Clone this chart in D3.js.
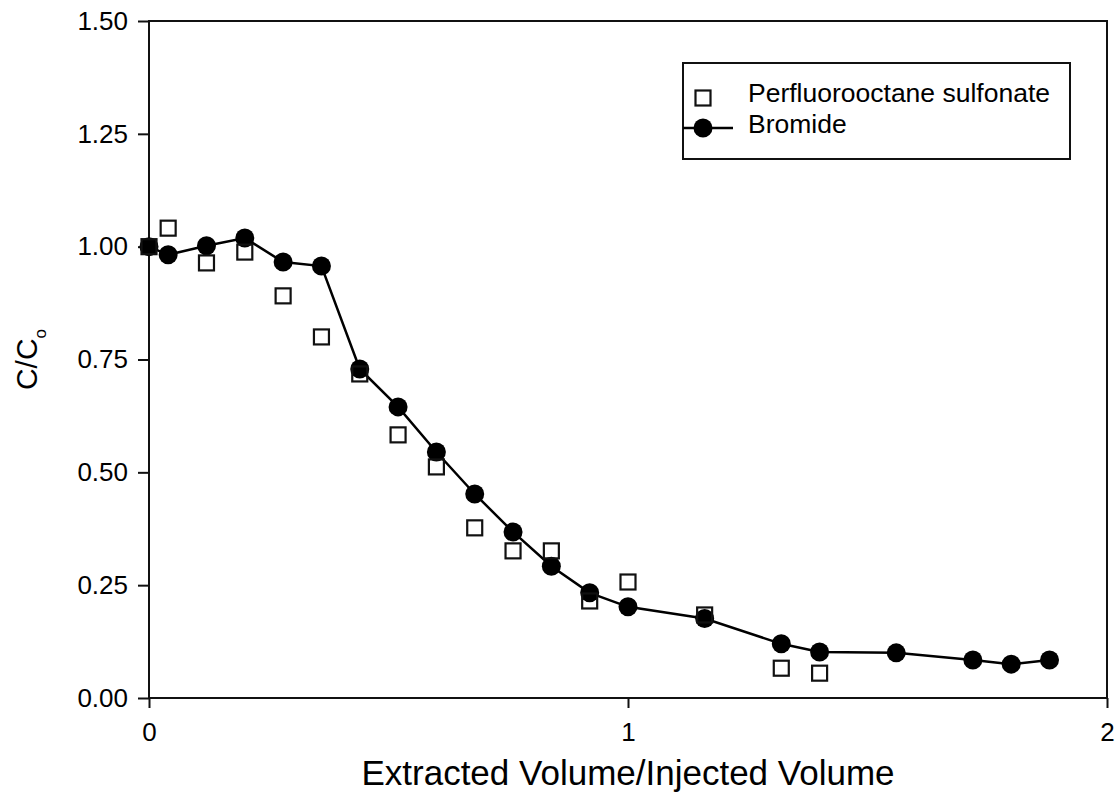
<!DOCTYPE html>
<html>
<head>
<meta charset="utf-8">
<script src="https://cdn.jsdelivr.net/npm/d3@7"></script>
<style>
  html, body { margin: 0; padding: 0; background: #fff; }
  svg { display: block; font-family: "Liberation Sans", Arial, sans-serif; }
</style>
</head>
<body>
<svg id="chart" width="1120" height="806"></svg>
<script>
// data
const volRatio = [0, 0.04, 0.12, 0.2, 0.28, 0.36, 0.44, 0.52, 0.60, 0.68, 0.76, 0.84, 0.92, 1.0, 1.16, 1.32, 1.40, 1.56, 1.72, 1.80, 1.88];
const bromide = [1.00, 0.982, 1.002, 1.019, 0.966, 0.957, 0.729, 0.645, 0.545, 0.452, 0.368, 0.292, 0.233, 0.202, 0.176, 0.120, 0.102, 0.100, 0.084, 0.075, 0.084];
const pfosRatio = [0, 0.04, 0.12, 0.2, 0.28, 0.36, 0.44, 0.52, 0.60, 0.68, 0.76, 0.84, 0.92, 1.0, 1.16, 1.32, 1.40];
const pfos = [1.00, 1.041, 0.964, 0.988, 0.891, 0.800, 0.718, 0.583, 0.512, 0.377, 0.326, 0.326, 0.215, 0.257, 0.184, 0.066, 0.055];
const xTicks = [0, 1, 2];
const yTicks = [0, 0.25, 0.5, 0.75, 1.0, 1.25, 1.5];
const seriesNames = ['Perfluorooctane sulfonate', 'Bromide'];

const svg = d3.select('#chart');
const margin = { left: 149, right: 13, top: 21, bottom: 108 };
const width = 1120 - margin.left - margin.right;
const height = 806 - margin.top - margin.bottom;

const graph = svg.append('g').attr('transform', `translate(${margin.left}, ${margin.top})`);

const x = d3.scaleLinear().domain([0, 2]).range([0, width]);
const y = d3.scaleLinear().domain([0, 1.5]).range([height, 0]);

// axes
const yAxis = graph.append('g')
  .call(d3.axisLeft(y).tickValues(yTicks).tickSize(11).tickPadding(10).tickFormat(d3.format('.2f')));
const xAxis = graph.append('g')
  .attr('transform', `translate(0, ${height})`)
  .call(d3.axisBottom(x).tickValues(xTicks).tickSize(10).tickPadding(15).tickFormat(d3.format('d')));

[xAxis, yAxis].forEach((a) => {
  a.select('.domain').remove();
  a.selectAll('line').attr('stroke', '#111').attr('stroke-width', 2);
  a.selectAll('text').attr('fill', '#000').attr('font-size', 26).attr('font-family', '"Liberation Sans", Arial, sans-serif');
});

// frame
graph.append('rect')
  .attr('x', 0).attr('y', 0)
  .attr('width', width).attr('height', height)
  .attr('fill', 'none')
  .attr('stroke', '#111')
  .attr('stroke-width', 2);

// bromide line + markers
const line = d3.line()
  .x((d) => x(d[0]))
  .y((d) => y(d[1]));

const bromideData = volRatio.map((v, i) => [v, bromide[i]]);
const pfosData = pfosRatio.map((v, i) => [v, pfos[i]]);

graph.append('path')
  .datum(bromideData)
  .attr('d', line)
  .attr('fill', 'none')
  .attr('stroke', '#000')
  .attr('stroke-width', 2.5);

graph.selectAll('.bromide')
  .data(bromideData)
  .enter()
  .append('circle')
  .attr('class', 'bromide')
  .attr('cx', (d) => x(d[0]))
  .attr('cy', (d) => y(d[1]))
  .attr('r', 9.5)
  .attr('fill', '#000');

// PFOS squares
const sq = 15;
graph.selectAll('.pfos')
  .data(pfosData)
  .enter()
  .append('rect')
  .attr('class', 'pfos')
  .attr('x', (d) => x(d[0]) - sq / 2)
  .attr('y', (d) => y(d[1]) - sq / 2)
  .attr('width', sq)
  .attr('height', sq)
  .attr('fill', 'none')
  .attr('stroke', '#111')
  .attr('stroke-width', 2.2);

// axis titles
svg.append('text')
  .attr('x', margin.left + width / 2)
  .attr('y', 785)
  .attr('text-anchor', 'middle')
  .attr('font-size', 35)
  .attr('fill', '#000')
  .text('Extracted Volume/Injected Volume');

const yTitle = svg.append('text')
  .attr('transform', `translate(37, ${margin.top + height / 2}) rotate(-90)`)
  .attr('text-anchor', 'middle')
  .attr('font-size', 30)
  .attr('fill', '#000');
yTitle.append('tspan').text('C/C');
yTitle.append('tspan').attr('font-size', 17).attr('dy', 9).text('o');

// legend
const legend = svg.append('g').attr('transform', 'translate(683, 63)');
legend.append('rect')
  .attr('width', 387).attr('height', 96)
  .attr('fill', '#fff')
  .attr('stroke', '#111')
  .attr('stroke-width', 2);

legend.append('rect')
  .attr('x', 20 - sq / 2).attr('y', 35 - sq / 2)
  .attr('width', sq).attr('height', sq)
  .attr('fill', 'none')
  .attr('stroke', '#111')
  .attr('stroke-width', 2.2);
legend.append('line')
  .attr('x1', 0).attr('x2', 50)
  .attr('y1', 65).attr('y2', 65)
  .attr('stroke', '#000').attr('stroke-width', 2.5);
legend.append('circle')
  .attr('cx', 20).attr('cy', 65).attr('r', 9.5).attr('fill', '#000');

legend.selectAll('.lab')
  .data(seriesNames)
  .enter()
  .append('text')
  .attr('class', 'lab')
  .attr('x', 65)
  .attr('y', (d, i) => 39 + i * 31)
  .attr('font-size', 26.5)
  .attr('fill', '#000')
  .text((d) => d);
</script>
</body>
</html>
